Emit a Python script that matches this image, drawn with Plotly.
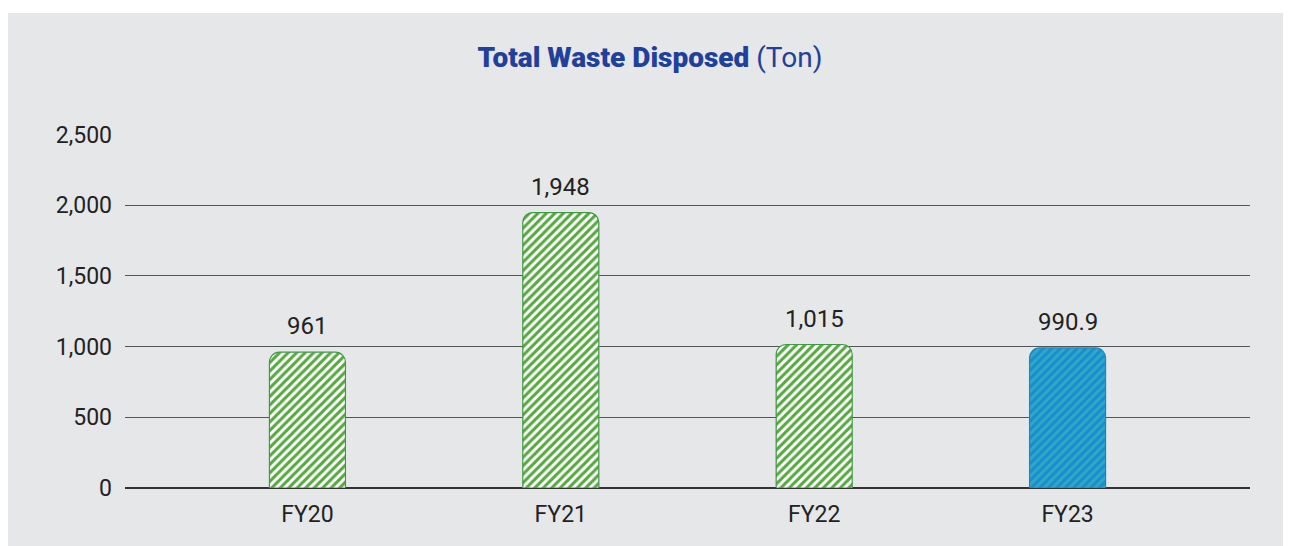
import plotly.graph_objects as go

categories = ["FY20", "FY21", "FY22", "FY23"]
values = [961, 1948, 1015, 990.9]
labels = ["961", "1,948", "1,015", "990.9"]
highlight = [False, False, False, True]

# page body adds an 8px offset; work in figure pixel coordinates
OFF = 8
W, H = 1291, 546
L, R = 125 - OFF, W - (1250 - OFF)
T, B = 134 - OFF, H - (488 - OFF)
pw, ph = W - L - R, H - T - B
BG = "#e6e7e9"

fig = go.Figure()

green_x = [c for c, h in zip(categories, highlight) if not h]
green_y = [v for v, h in zip(values, highlight) if not h]
blue_x = [c for c, h in zip(categories, highlight) if h]
blue_y = [v for v, h in zip(values, highlight) if h]

fig.add_trace(go.Bar(
    x=green_x, y=green_y, width=0.30,
    marker=dict(
        color="#ffffff", cornerradius=10,
        line=dict(color="#3f9a45", width=1.2),
        pattern=dict(shape="/", size=6, solidity=0.52, fillmode="replace",
                     fgcolor="#56a83f", bgcolor="#ffffff"),
    ),
    hoverinfo="skip",
))
fig.add_trace(go.Bar(
    x=blue_x, y=blue_y, width=0.30,
    marker=dict(
        color="#1a8ccf", cornerradius=10,
        line=dict(color="#1a86c4", width=1.2),
        pattern=dict(shape="/", size=6, solidity=0.5, fillmode="replace",
                     fgcolor="#2fa9c4", bgcolor="#1a8ccf"),
    ),
    hoverinfo="skip",
))

for c, v, t in zip(categories, values, labels):
    fig.add_annotation(x=c, y=v, text=t, showarrow=False, yanchor="bottom",
                       yshift=10, font=dict(family="Roboto", size=24, color="#222222"))

# white strip above the grey card (figure rows 0..5)
fig.add_shape(type="rect", xref="paper", yref="paper", layer="below",
              x0=-(L + 5) / pw, x1=(W + 5 - L) / pw,
              y0=(H - B - (13 - OFF)) / ph, y1=(H - B + 10) / ph,
              fillcolor="#ffffff", line_width=0)

fig.update_layout(
    width=W, height=H,
    margin=dict(l=L, r=R, t=T, b=B),
    paper_bgcolor=BG, plot_bgcolor="rgba(0,0,0,0)",
    showlegend=False, barmode="overlay",
    title=dict(text="<span style='font-weight:900'>Total Waste Disposed</span> (Ton)",
               x=(650 - OFF) / W, xanchor="center",
               y=1 - (57 - OFF) / H, yanchor="middle", yref="container",
               font=dict(family="Roboto", size=28, color="#21409a")),
    font=dict(family="Roboto", size=23, color="#222222"),
)
fig.update_xaxes(range=[-0.72, 3.72], showgrid=False, showline=False, ticks="",
                 tickfont=dict(size=23, color="#222222"), ticklabelstandoff=10)
fig.update_yaxes(range=[0, 2504], tickvals=[0, 500, 1000, 1500, 2000, 2500], tickformat=",",
                 showgrid=True, gridcolor="#555555", gridwidth=1, zeroline=True,
                 zerolinecolor="#333333", zerolinewidth=1.5, showline=False, ticks="",
                 ticklabelstandoff=12, tickfont=dict(size=23, color="#222222"))

fig.write_html("out.html", post_script="document.body.style.overflow='hidden';")
